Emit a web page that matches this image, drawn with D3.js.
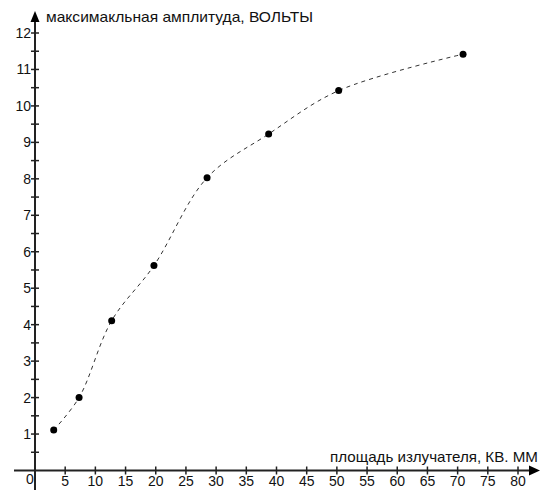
<!DOCTYPE html>
<html>
<head>
<meta charset="utf-8">
<script src="https://cdn.jsdelivr.net/npm/d3@7"></script>
<style>
body { margin: 0; background: #fff; }
text { font-family: "Liberation Sans", Arial, sans-serif; font-size: 14px; fill: #111; }
</style>
</head>
<body>
<svg id="chart" width="542" height="490"></svg>
<script>
const W = 542
const H = 490

// measured points (area, max amplitude)
const area = [3.1, 7.3, 12.7, 19.7, 28.5, 38.7, 50.3, 70.9]
const volts = [1.11, 2.0, 4.11, 5.62, 8.03, 9.23, 10.42, 11.42]
const xTicks = [5, 10, 15, 20, 25, 30, 35, 40, 45, 50, 55, 60, 65, 70, 75, 80]
const yTicks = [1, 2, 3, 4, 5, 6, 7, 8, 9, 10, 11, 12]
const yMinor = [0.5, 1.5, 2.5, 3.5, 4.5, 5.5, 6.5, 7.5, 8.5, 9.5, 10.5, 11.5]
const xTitle = 'площадь излучателя, КВ. ММ'
const yTitle = 'максимакльная амплитуда, ВОЛЬТЫ'

const x = d3.scaleLinear().domain([0, 80]).range([35, 518])
const y = d3.scaleLinear().domain([0, 12]).range([470.5, 33])

const svg = d3.select('#chart')
const ink = '#222'

// axes lines
svg.append('line')
    .attr('x1', 14).attr('x2', 532)
    .attr('y1', y(0)).attr('y2', y(0))
    .attr('stroke', ink).attr('stroke-width', 2)
svg.append('line')
    .attr('x1', x(0)).attr('x2', x(0))
    .attr('y1', 490).attr('y2', 18)
    .attr('stroke', ink).attr('stroke-width', 2)

// arrows
svg.append('path')
    .attr('d', `M${x(0)},11 L${x(0) - 4.5},22 L${x(0) + 4.5},22 Z`)
    .attr('fill', '#000')
svg.append('path')
    .attr('d', `M540,${y(0)} L529,${y(0) - 5} L529,${y(0) + 5} Z`)
    .attr('fill', '#000')

// y ticks
svg.selectAll('.ytick')
    .data(yTicks.concat(yMinor))
    .enter()
    .append('line')
    .attr('x1', x(0) - 4).attr('x2', x(0) + 4)
    .attr('y1', d => y(d)).attr('y2', d => y(d))
    .attr('stroke', ink).attr('stroke-width', 1.5)
svg.selectAll('.ylab')
    .data(yTicks)
    .enter()
    .append('text')
    .attr('x', x(0) - 4)
    .attr('y', d => y(d) + 5)
    .attr('text-anchor', 'end')
    .text(d => d)

// x ticks
svg.selectAll('.xtick')
    .data(xTicks)
    .enter()
    .append('line')
    .attr('x1', d => x(d)).attr('x2', d => x(d))
    .attr('y1', y(0) - 4).attr('y2', y(0) + 4)
    .attr('stroke', ink).attr('stroke-width', 1.5)
svg.selectAll('.xlab')
    .data(xTicks)
    .enter()
    .append('text')
    .attr('x', d => x(d))
    .attr('y', 486)
    .attr('text-anchor', 'middle')
    .text(d => d)
svg.append('text')
    .attr('x', 30).attr('y', 484)
    .attr('text-anchor', 'middle')
    .text('0')

// titles
svg.append('text')
    .attr('x', 46).attr('y', 22)
    .attr('textLength', 267)
    .attr('lengthAdjust', 'spacingAndGlyphs')
    .style('font-size', '15px')
    .text(yTitle)
svg.append('text')
    .attr('x', 330).attr('y', 462)
    .attr('textLength', 208)
    .attr('lengthAdjust', 'spacingAndGlyphs')
    .style('font-size', '15px')
    .text(xTitle)

// curve
const pts = area.map((a, i) => [a, volts[i]])
const line = d3.line()
    .x(d => x(d[0]))
    .y(d => y(d[1]))
    .curve(d3.curveCatmullRom.alpha(0.5))
svg.append('path')
    .datum(pts)
    .attr('d', line)
    .attr('fill', 'none')
    .attr('stroke', '#333')
    .attr('stroke-width', 1)
    .attr('stroke-dasharray', '4 4')

svg.selectAll('.dot')
    .data(pts)
    .enter()
    .append('circle')
    .attr('cx', d => x(d[0]))
    .attr('cy', d => y(d[1]))
    .attr('r', 3.5)
    .attr('fill', '#000')
</script>
</body>
</html>
